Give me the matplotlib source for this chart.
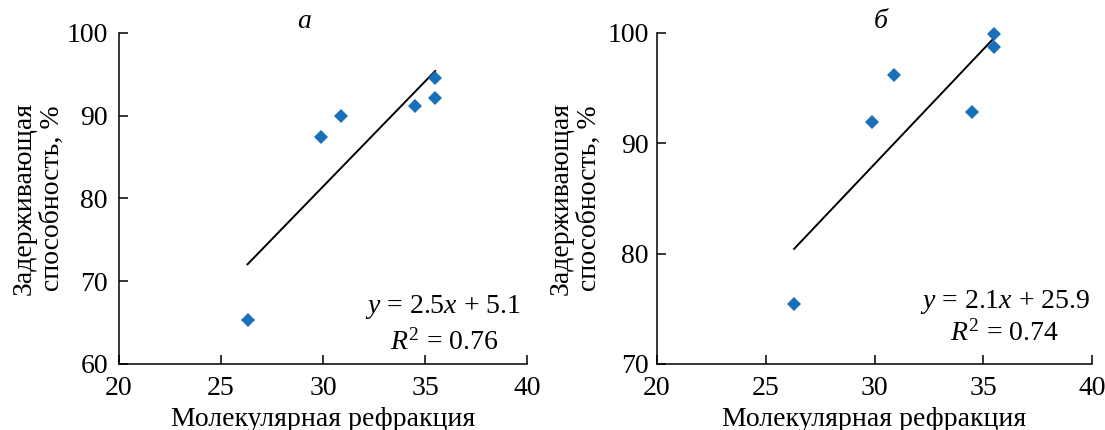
import numpy as np
import matplotlib.pyplot as plt

# Retention vs molar refraction, two sorbents (a, б)

mol_refr = [26.3, 29.9, 30.9, 34.5, 35.5, 35.5]
retention_a = [65.3, 87.4, 90.0, 91.2, 94.6, 92.1]
retention_b = [75.4, 91.9, 96.2, 92.8, 99.9, 98.7]

panel_labels = ['а', 'б']
equations = ['$y$ = 2.5$x$ + 5.1', '$y$ = 2.1$x$ + 25.9']
r2_labels = ['$R^2$ = 0.76', '$R^2$ = 0.74']
y_limits = [(60, 100), (70, 100)]
y_ticks = [[60, 70, 80, 90, 100], [70, 80, 90, 100]]
x_ticks = [20, 25, 30, 35, 40]

plt.rcParams['font.family'] = ['Liberation Serif', 'DejaVu Serif']
plt.rcParams['mathtext.fontset'] = 'custom'
plt.rcParams['mathtext.rm'] = 'Liberation Serif'
plt.rcParams['mathtext.it'] = 'Liberation Serif:italic'

fig = plt.figure(figsize=(11.05, 4.30), dpi=100)
ax_a = fig.add_axes([0.1077, 0.1535, 0.3692, 0.770])
ax_b = fig.add_axes([0.5946, 0.1535, 0.3937, 0.770])

blue = '#1a6fb9'
fs = 20

for i, (ax, ret) in enumerate(zip([ax_a, ax_b], [retention_a, retention_b])):
    ax.plot(mol_refr, ret, linestyle='none', marker='D', markersize=7,
            color=blue, markeredgewidth=0, zorder=3, clip_on=False)
    # linear trend
    k, b = np.polyfit(mol_refr, ret, 1)
    xs = np.array([min(mol_refr), max(mol_refr)])
    ax.plot(xs, k * xs + b, color='black', linewidth=1.4)

    ax.set_xlim(20, 40)
    ax.set_ylim(*y_limits[i])
    ax.set_xticks(x_ticks)
    ax.set_yticks(y_ticks[i])
    ax.spines['top'].set_visible(False)
    ax.spines['right'].set_visible(False)
    for s in ['left', 'bottom']:
        ax.spines[s].set_linewidth(1.1)
    ax.tick_params(direction='in', length=6.5, width=1.1, labelsize=fs)
    ax.tick_params(axis='x', pad=9)
    ax.tick_params(axis='y', pad=8 if i == 0 else 6)

    ax.set_xlabel('Молекулярная рефракция', fontsize=fs, labelpad=4)
    ax.set_ylabel('Задерживающая\nспособность, %', fontsize=fs,
                  linespacing=1.2)
    ax.yaxis.set_label_coords(-0.132 if i == 0 else -0.126, 0.5)

    ax.text(0.453 if i == 0 else 0.515, 1.035, panel_labels[i],
            transform=ax.transAxes, fontsize=fs, style='italic',
            ha='center', va='center')

ax_a.text(0.985, 0.172, equations[0], transform=ax_a.transAxes, fontsize=fs,
          ha='right', va='center')
ax_a.text(0.93, 0.066, r2_labels[0], transform=ax_a.transAxes, fontsize=fs,
          ha='right', va='center')
ax_b.text(0.995, 0.187, equations[1], transform=ax_b.transAxes, fontsize=fs,
          ha='right', va='center')
ax_b.text(0.923, 0.094, r2_labels[1], transform=ax_b.transAxes, fontsize=fs,
          ha='right', va='center')

plt.savefig('out.png', dpi=100)
